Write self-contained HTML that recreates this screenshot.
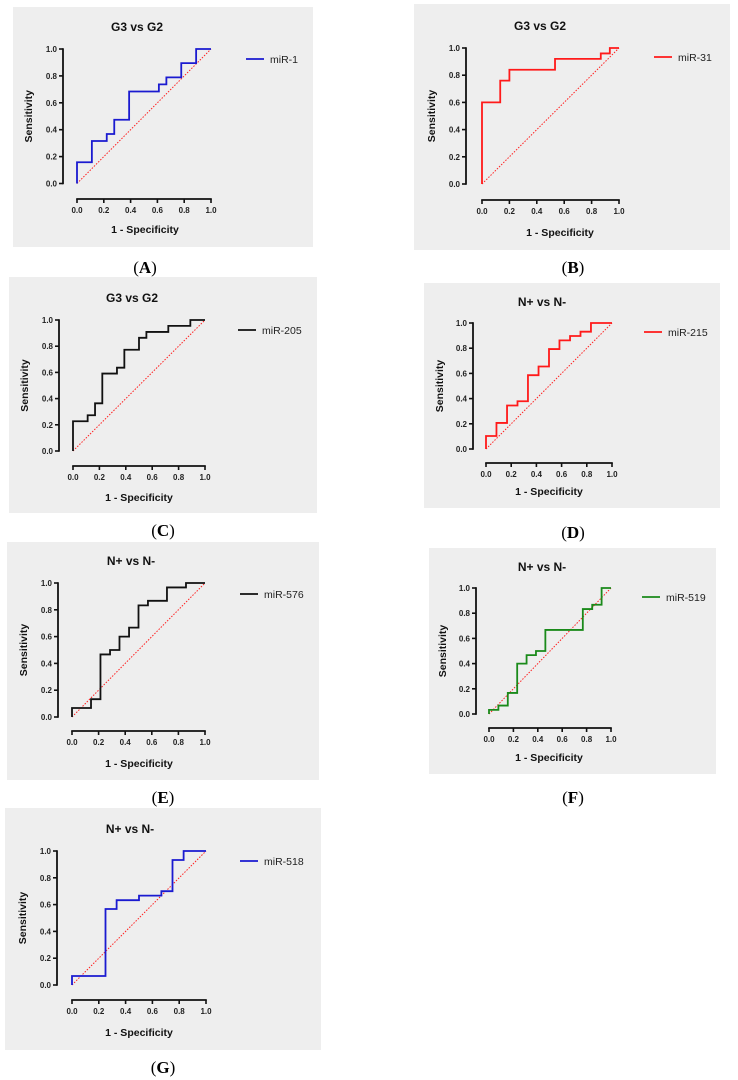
<!DOCTYPE html>
<html><head><meta charset="utf-8"><style>
html,body{margin:0;padding:0;background:#fff;}
svg{display:block;font-family:"Liberation Sans",Arial,sans-serif;}
.cap{font-family:"Liberation Serif",serif;font-size:17px;}
</style></head><body>
<svg id="fig" width="738" height="1080" viewBox="0 0 738 1080"></svg>
<script>
// Panel data: breakpoints of 1-Specificity and sensitivity after each step
const fprA=[0,0.111,0.222,0.278,0.389,0.611,0.667,0.778,0.889];
const tprA=[0.158,0.316,0.368,0.474,0.684,0.737,0.789,0.895,1.0];
const fprB=[0,0.133,0.2,0.533,0.867,0.933];
const tprB=[0.6,0.76,0.84,0.92,0.96,1.0];
const fprC=[0,0.111,0.167,0.222,0.333,0.389,0.5,0.556,0.722,0.889];
const tprC=[0.227,0.273,0.364,0.591,0.636,0.773,0.864,0.909,0.955,1.0];
const fprD=[0,0.083,0.167,0.25,0.333,0.417,0.5,0.583,0.667,0.75,0.833];
const tprD=[0.103,0.207,0.345,0.379,0.586,0.655,0.793,0.862,0.897,0.931,1.0];
const fprE=[0,0.143,0.214,0.286,0.357,0.429,0.5,0.571,0.714,0.857];
const tprE=[0.067,0.133,0.467,0.5,0.6,0.667,0.833,0.867,0.967,1.0];
const fprF=[0,0.077,0.154,0.231,0.308,0.385,0.462,0.769,0.846,0.923];
const tprF=[0.033,0.067,0.167,0.4,0.467,0.5,0.667,0.833,0.867,1.0];
const fprG=[0,0.25,0.333,0.5,0.667,0.75,0.833];
const tprG=[0.067,0.567,0.633,0.667,0.7,0.933,1.0];
const tickLabels=["0.0","0.2","0.4","0.6","0.8","1.0"];
const tickValues=[0,0.2,0.4,0.6,0.8,1.0];

const panels=[
 {id:"a",letter:"A",title:"G3 vs G2",series:"miR-1",color:"#1a1ad0",fpr:fprA,tpr:tprA,
  bg:[13,7,300,240],yax:63,y1:49,y0:183.5,xay:199,x0:77,x1:211,tx:137,ty:27,lx:246,ly:59,xlx:145,xly:229,ylx:32,cx:145,cy:267},
 {id:"b",letter:"B",title:"G3 vs G2",series:"miR-31",color:"#ff1a1a",fpr:fprB,tpr:tprB,
  bg:[414,4,316,246],yax:466,y1:48,y0:184,xay:200,x0:482,x1:619,tx:540,ty:26,lx:654,ly:57,xlx:560,xly:232,ylx:435,cx:573,cy:267},
 {id:"c",letter:"C",title:"G3 vs G2",series:"miR-205",color:"#111111",fpr:fprC,tpr:tprC,
  bg:[9,277,308,236],yax:59,y1:320,y0:451,xay:466,x0:73,x1:205,tx:132,ty:298,lx:238,ly:330,xlx:139,xly:497,ylx:28,cx:163,cy:530},
 {id:"d",letter:"D",title:"N+ vs N-",series:"miR-215",color:"#ff1a1a",fpr:fprD,tpr:tprD,
  bg:[424,283,296,225],yax:473,y1:323,y0:449,xay:463,x0:486,x1:612,tx:542,ty:302,lx:644,ly:332,xlx:549,xly:491,ylx:443,cx:573,cy:532},
 {id:"e",letter:"E",title:"N+ vs N-",series:"miR-576",color:"#111111",fpr:fprE,tpr:tprE,
  bg:[7,542,312,238],yax:58,y1:583,y0:717,xay:731,x0:72,x1:205,tx:131,ty:561,lx:240,ly:594,xlx:139,xly:763,ylx:27,cx:163,cy:797},
 {id:"f",letter:"F",title:"N+ vs N-",series:"miR-519",color:"#1a8a1a",fpr:fprF,tpr:tprF,
  bg:[429,548,287,226],yax:476,y1:588,y0:714,xay:728,x0:489,x1:611,tx:542,ty:567,lx:642,ly:597,xlx:549,xly:757,ylx:446,cx:573,cy:797},
 {id:"g",letter:"G",title:"N+ vs N-",series:"miR-518",color:"#1a1ad0",fpr:fprG,tpr:tprG,
  bg:[5,808,316,242],yax:57,y1:851,y0:985,xay:1000,x0:72,x1:206,tx:130,ty:829,lx:240,ly:861,xlx:139,xly:1032,ylx:26,cx:163,cy:1067}
];
const NS="http://www.w3.org/2000/svg";
const svg=document.getElementById("fig");
function mk(tag,attrs,parent,text){const e=document.createElementNS(NS,tag);for(const k in attrs)e.setAttribute(k,attrs[k]);if(text!==undefined)e.textContent=text;parent.appendChild(e);return e;}

panels.forEach(p=>{
  const g=mk("g",{},svg);
  
  
  const xs=v=>p.x0+v*(p.x1-p.x0);
  const ys=v=>p.y0-v*(p.y0-p.y1);
  const bg=mk("rect",{x:p.bg[0],y:p.bg[1],width:p.bg[2],height:p.bg[3],fill:"#eeeeee"},g);
  
  
  const t=mk("text",{x:p.tx,y:p.ty+4,"text-anchor":"middle","font-size":"12","font-weight":"bold",fill:"#111"},g,p.title);
  
  
  const ya=mk("g",{},g);
  
  
  mk("line",{x1:p.yax,y1:ys(1)-0.8,x2:p.yax,y2:ys(0)+0.8,stroke:"#111","stroke-width":1.8},ya);
  tickValues.forEach((v,i)=>{
    mk("line",{x1:p.yax-4,y1:ys(v),x2:p.yax,y2:ys(v),stroke:"#111","stroke-width":1.6},ya);
    const tl=mk("text",{x:p.yax-6,y:ys(v)+3,"text-anchor":"end","font-size":"8","font-weight":"bold",fill:"#222"},ya,tickLabels[i]);
    
    
  });
  const xa=mk("g",{},g);
  
  
  mk("line",{x1:xs(0)-0.8,y1:p.xay,x2:xs(1)+0.8,y2:p.xay,stroke:"#111","stroke-width":1.8},xa);
  tickValues.forEach((v,i)=>{
    mk("line",{x1:xs(v),y1:p.xay,x2:xs(v),y2:p.xay+4,stroke:"#111","stroke-width":1.6},xa);
    const tl=mk("text",{x:xs(v),y:p.xay+14,"text-anchor":"middle","font-size":"8","font-weight":"bold",fill:"#222"},xa,tickLabels[i]);
    
    
  });
  const xl=mk("text",{x:p.xlx,y:p.xly+4,"text-anchor":"middle","font-size":"10.5","font-weight":"bold",fill:"#111"},g,"1 - Specificity");
  
  
  const ymid=(ys(0)+ys(1))/2;
  const yl=mk("text",{x:p.ylx,y:ymid,"text-anchor":"middle","font-size":"10.5","font-weight":"bold",fill:"#111",transform:"rotate(-90 "+p.ylx+" "+ymid+")"},g,"Sensitivity");
  
  
  const dg=mk("line",{x1:xs(0),y1:ys(0),x2:xs(1),y2:ys(1),stroke:"#ff2020","stroke-width":1,"stroke-dasharray":"1.5 1.5"},g);
  
  
  let d="M"+xs(0)+" "+ys(0);
  for(let i=0;i<p.fpr.length;i++){
    d+=" L"+xs(p.fpr[i])+" "+ys(i?p.tpr[i-1]:0);
    d+=" L"+xs(p.fpr[i])+" "+ys(p.tpr[i]);
  }
  d+=" L"+xs(1)+" "+ys(p.tpr[p.tpr.length-1]);
  const c=mk("path",{d:d,fill:"none",stroke:p.color,"stroke-width":1.8},g);
  
  
  const lg=mk("g",{},g);
  
  
  mk("line",{x1:p.lx,y1:p.ly,x2:p.lx+18,y2:p.ly,stroke:p.color,"stroke-width":1.8},lg);
  mk("text",{x:p.lx+24,y:p.ly+4,"font-size":"10.5",fill:"#222"},lg,p.series);
  const cp=mk("text",{x:p.cx,y:p.cy+6,"text-anchor":"middle",class:"cap",fill:"#000"},g);
  
  
  mk("tspan",{},cp,"(");
  mk("tspan",{"font-weight":"bold"},cp,p.letter);
  mk("tspan",{},cp,")");
});
</script>
</body></html>
